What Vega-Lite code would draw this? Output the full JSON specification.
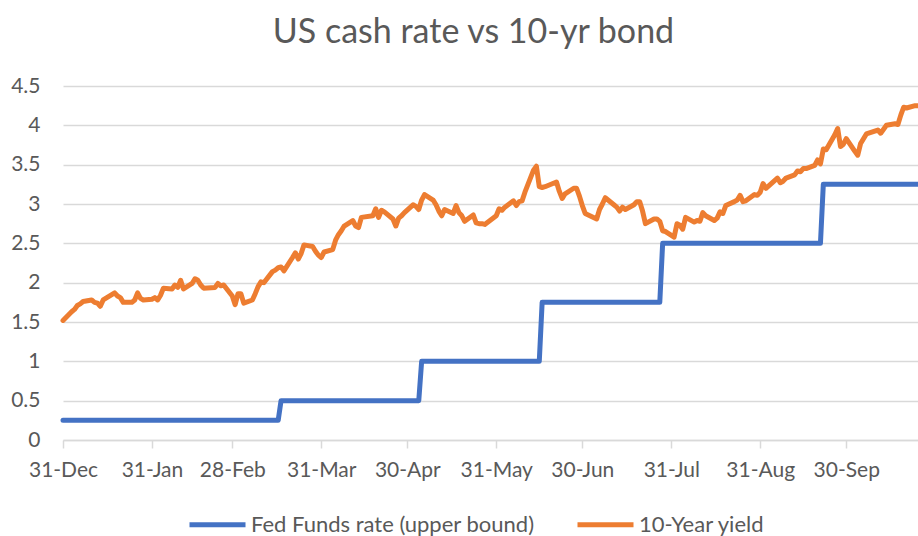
{
  "$schema": "https://vega.github.io/schema/vega-lite/v6.json",
  "width": 855,
  "height": 354,
  "autosize": {"type": "none"},
  "padding": {"left": 63, "top": 86, "right": 0, "bottom": 96},
  "background": "white",
  "config": {"view": {"stroke": null}, "font": "Lato"},
  "title": {"text": "US cash rate vs 10-yr bond", "fontSize": 34, "fontWeight": "normal", "color": "#595959", "anchor": "middle", "frame": "group", "baseline": "alphabetic", "offset": -2, "dx": -17},
  "datasets": {
    "ff": [
      {"d": "2021-12-31", "v": 0.25}, {"d": "2022-03-16", "v": 0.25}, {"d": "2022-03-17", "v": 0.5}, {"d": "2022-05-04", "v": 0.5},
      {"d": "2022-05-05", "v": 1.0}, {"d": "2022-06-15", "v": 1.0}, {"d": "2022-06-16", "v": 1.75}, {"d": "2022-07-27", "v": 1.75},
      {"d": "2022-07-28", "v": 2.5}, {"d": "2022-09-21", "v": 2.5}, {"d": "2022-09-22", "v": 3.25}, {"d": "2022-10-25", "v": 3.25}
    ],
    "y10": [
      {"d": "2021-12-31", "v": 1.52}, {"d": "2022-01-03", "v": 1.63}, {"d": "2022-01-04", "v": 1.66}, {"d": "2022-01-05", "v": 1.71},
      {"d": "2022-01-06", "v": 1.73}, {"d": "2022-01-07", "v": 1.76}, {"d": "2022-01-10", "v": 1.78}, {"d": "2022-01-11", "v": 1.75},
      {"d": "2022-01-12", "v": 1.74}, {"d": "2022-01-13", "v": 1.70}, {"d": "2022-01-14", "v": 1.78}, {"d": "2022-01-18", "v": 1.87},
      {"d": "2022-01-19", "v": 1.83}, {"d": "2022-01-20", "v": 1.81}, {"d": "2022-01-21", "v": 1.75}, {"d": "2022-01-24", "v": 1.75},
      {"d": "2022-01-25", "v": 1.78}, {"d": "2022-01-26", "v": 1.87}, {"d": "2022-01-27", "v": 1.80}, {"d": "2022-01-28", "v": 1.78},
      {"d": "2022-01-31", "v": 1.79}, {"d": "2022-02-01", "v": 1.81}, {"d": "2022-02-02", "v": 1.78}, {"d": "2022-02-03", "v": 1.84},
      {"d": "2022-02-04", "v": 1.93}, {"d": "2022-02-07", "v": 1.92}, {"d": "2022-02-08", "v": 1.97}, {"d": "2022-02-09", "v": 1.94},
      {"d": "2022-02-10", "v": 2.03}, {"d": "2022-02-11", "v": 1.92}, {"d": "2022-02-14", "v": 1.99}, {"d": "2022-02-15", "v": 2.05},
      {"d": "2022-02-16", "v": 2.03}, {"d": "2022-02-17", "v": 1.97}, {"d": "2022-02-18", "v": 1.93}, {"d": "2022-02-22", "v": 1.94},
      {"d": "2022-02-23", "v": 1.99}, {"d": "2022-02-24", "v": 1.96}, {"d": "2022-02-25", "v": 1.97}, {"d": "2022-02-28", "v": 1.83},
      {"d": "2022-03-01", "v": 1.72}, {"d": "2022-03-02", "v": 1.86}, {"d": "2022-03-03", "v": 1.86}, {"d": "2022-03-04", "v": 1.74},
      {"d": "2022-03-07", "v": 1.78}, {"d": "2022-03-08", "v": 1.86}, {"d": "2022-03-09", "v": 1.95}, {"d": "2022-03-10", "v": 2.01},
      {"d": "2022-03-11", "v": 2.00}, {"d": "2022-03-14", "v": 2.14}, {"d": "2022-03-15", "v": 2.16}, {"d": "2022-03-16", "v": 2.19},
      {"d": "2022-03-17", "v": 2.20}, {"d": "2022-03-18", "v": 2.15}, {"d": "2022-03-21", "v": 2.32}, {"d": "2022-03-22", "v": 2.38},
      {"d": "2022-03-23", "v": 2.30}, {"d": "2022-03-24", "v": 2.37}, {"d": "2022-03-25", "v": 2.48}, {"d": "2022-03-28", "v": 2.46},
      {"d": "2022-03-29", "v": 2.40}, {"d": "2022-03-30", "v": 2.35}, {"d": "2022-03-31", "v": 2.32}, {"d": "2022-04-01", "v": 2.39},
      {"d": "2022-04-04", "v": 2.42}, {"d": "2022-04-05", "v": 2.54}, {"d": "2022-04-06", "v": 2.61}, {"d": "2022-04-07", "v": 2.66},
      {"d": "2022-04-08", "v": 2.72}, {"d": "2022-04-11", "v": 2.79}, {"d": "2022-04-12", "v": 2.72}, {"d": "2022-04-13", "v": 2.70},
      {"d": "2022-04-14", "v": 2.83}, {"d": "2022-04-18", "v": 2.85}, {"d": "2022-04-19", "v": 2.94}, {"d": "2022-04-20", "v": 2.83},
      {"d": "2022-04-21", "v": 2.92}, {"d": "2022-04-22", "v": 2.90}, {"d": "2022-04-25", "v": 2.81}, {"d": "2022-04-26", "v": 2.72},
      {"d": "2022-04-27", "v": 2.82}, {"d": "2022-04-28", "v": 2.85}, {"d": "2022-04-29", "v": 2.89}, {"d": "2022-05-02", "v": 2.99},
      {"d": "2022-05-03", "v": 2.97}, {"d": "2022-05-04", "v": 2.93}, {"d": "2022-05-05", "v": 3.05}, {"d": "2022-05-06", "v": 3.12},
      {"d": "2022-05-09", "v": 3.05}, {"d": "2022-05-10", "v": 2.99}, {"d": "2022-05-11", "v": 2.91}, {"d": "2022-05-12", "v": 2.85},
      {"d": "2022-05-13", "v": 2.93}, {"d": "2022-05-16", "v": 2.88}, {"d": "2022-05-17", "v": 2.98}, {"d": "2022-05-18", "v": 2.89},
      {"d": "2022-05-19", "v": 2.85}, {"d": "2022-05-20", "v": 2.78}, {"d": "2022-05-23", "v": 2.86}, {"d": "2022-05-24", "v": 2.76},
      {"d": "2022-05-25", "v": 2.75}, {"d": "2022-05-26", "v": 2.75}, {"d": "2022-05-27", "v": 2.74}, {"d": "2022-05-31", "v": 2.85},
      {"d": "2022-06-01", "v": 2.94}, {"d": "2022-06-02", "v": 2.92}, {"d": "2022-06-03", "v": 2.96}, {"d": "2022-06-06", "v": 3.04},
      {"d": "2022-06-07", "v": 2.98}, {"d": "2022-06-08", "v": 3.03}, {"d": "2022-06-09", "v": 3.04}, {"d": "2022-06-10", "v": 3.15},
      {"d": "2022-06-13", "v": 3.43}, {"d": "2022-06-14", "v": 3.48}, {"d": "2022-06-15", "v": 3.22}, {"d": "2022-06-16", "v": 3.21},
      {"d": "2022-06-17", "v": 3.22}, {"d": "2022-06-21", "v": 3.28}, {"d": "2022-06-22", "v": 3.16}, {"d": "2022-06-23", "v": 3.07},
      {"d": "2022-06-24", "v": 3.13}, {"d": "2022-06-27", "v": 3.20}, {"d": "2022-06-28", "v": 3.20}, {"d": "2022-06-29", "v": 3.10},
      {"d": "2022-06-30", "v": 2.98}, {"d": "2022-07-01", "v": 2.88}, {"d": "2022-07-05", "v": 2.81}, {"d": "2022-07-06", "v": 2.93},
      {"d": "2022-07-07", "v": 3.00}, {"d": "2022-07-08", "v": 3.08}, {"d": "2022-07-11", "v": 2.99}, {"d": "2022-07-12", "v": 2.96},
      {"d": "2022-07-13", "v": 2.91}, {"d": "2022-07-14", "v": 2.96}, {"d": "2022-07-15", "v": 2.93}, {"d": "2022-07-18", "v": 2.99},
      {"d": "2022-07-19", "v": 3.03}, {"d": "2022-07-20", "v": 3.03}, {"d": "2022-07-21", "v": 2.91}, {"d": "2022-07-22", "v": 2.75},
      {"d": "2022-07-25", "v": 2.81}, {"d": "2022-07-26", "v": 2.81}, {"d": "2022-07-27", "v": 2.78}, {"d": "2022-07-28", "v": 2.66},
      {"d": "2022-07-29", "v": 2.65}, {"d": "2022-08-01", "v": 2.58}, {"d": "2022-08-02", "v": 2.75}, {"d": "2022-08-03", "v": 2.73},
      {"d": "2022-08-04", "v": 2.68}, {"d": "2022-08-05", "v": 2.83}, {"d": "2022-08-08", "v": 2.77}, {"d": "2022-08-09", "v": 2.79},
      {"d": "2022-08-10", "v": 2.78}, {"d": "2022-08-11", "v": 2.89}, {"d": "2022-08-12", "v": 2.85}, {"d": "2022-08-15", "v": 2.79},
      {"d": "2022-08-16", "v": 2.82}, {"d": "2022-08-17", "v": 2.90}, {"d": "2022-08-18", "v": 2.88}, {"d": "2022-08-19", "v": 2.98},
      {"d": "2022-08-22", "v": 3.03}, {"d": "2022-08-23", "v": 3.05}, {"d": "2022-08-24", "v": 3.11}, {"d": "2022-08-25", "v": 3.03},
      {"d": "2022-08-26", "v": 3.04}, {"d": "2022-08-29", "v": 3.12}, {"d": "2022-08-30", "v": 3.11}, {"d": "2022-08-31", "v": 3.15},
      {"d": "2022-09-01", "v": 3.26}, {"d": "2022-09-02", "v": 3.20}, {"d": "2022-09-06", "v": 3.33}, {"d": "2022-09-07", "v": 3.27},
      {"d": "2022-09-08", "v": 3.29}, {"d": "2022-09-09", "v": 3.33}, {"d": "2022-09-12", "v": 3.37}, {"d": "2022-09-13", "v": 3.42},
      {"d": "2022-09-14", "v": 3.41}, {"d": "2022-09-15", "v": 3.45}, {"d": "2022-09-16", "v": 3.45}, {"d": "2022-09-19", "v": 3.49},
      {"d": "2022-09-20", "v": 3.56}, {"d": "2022-09-21", "v": 3.51}, {"d": "2022-09-22", "v": 3.70}, {"d": "2022-09-23", "v": 3.69},
      {"d": "2022-09-26", "v": 3.88}, {"d": "2022-09-27", "v": 3.96}, {"d": "2022-09-28", "v": 3.73}, {"d": "2022-09-29", "v": 3.76},
      {"d": "2022-09-30", "v": 3.83}, {"d": "2022-10-03", "v": 3.67}, {"d": "2022-10-04", "v": 3.62}, {"d": "2022-10-05", "v": 3.77},
      {"d": "2022-10-06", "v": 3.83}, {"d": "2022-10-07", "v": 3.89}, {"d": "2022-10-11", "v": 3.94}, {"d": "2022-10-12", "v": 3.90},
      {"d": "2022-10-13", "v": 3.95}, {"d": "2022-10-14", "v": 4.00}, {"d": "2022-10-17", "v": 4.02}, {"d": "2022-10-18", "v": 4.01},
      {"d": "2022-10-19", "v": 4.13}, {"d": "2022-10-20", "v": 4.23}, {"d": "2022-10-21", "v": 4.22}, {"d": "2022-10-24", "v": 4.25},
      {"d": "2022-10-25", "v": 4.25}
    ]
  },
  "encoding": {
    "x": {
      "field": "d", "type": "temporal",
      "scale": {"type": "utc", "domain": [{"year": 2021, "month": 12, "date": 31, "utc": true}, {"year": 2022, "month": 10, "date": 25, "utc": true}]},
      "axis": {
        "title": null, "grid": false, "format": "%d-%b", "labelFlush": false, "labelOverlap": false, "labelBound": false,
        "values": [
          {"year": 2021, "month": 12, "date": 31, "utc": true}, {"year": 2022, "month": 1, "date": 31, "utc": true},
          {"year": 2022, "month": 2, "date": 28, "utc": true}, {"year": 2022, "month": 3, "date": 31, "utc": true},
          {"year": 2022, "month": 4, "date": 30, "utc": true}, {"year": 2022, "month": 5, "date": 31, "utc": true},
          {"year": 2022, "month": 6, "date": 30, "utc": true}, {"year": 2022, "month": 7, "date": 31, "utc": true},
          {"year": 2022, "month": 8, "date": 31, "utc": true}, {"year": 2022, "month": 9, "date": 30, "utc": true}
        ],
        "domainColor": "#D9D9D9", "domainWidth": 1.5, "tickColor": "#D9D9D9", "tickWidth": 1.5, "tickSize": 8,
        "labelPadding": 11, "labelFontSize": 21, "labelColor": "#595959"
      }
    },
    "y": {
      "field": "v", "type": "quantitative",
      "scale": {"domain": [0, 4.5], "nice": false},
      "axis": {
        "title": null, "domain": false, "ticks": false, "tickSize": 0, "labelPadding": 23, "format": "~g",
        "values": [0, 0.5, 1, 1.5, 2, 2.5, 3, 3.5, 4, 4.5],
        "gridColor": "#D9D9D9", "gridWidth": 1.5, "labelFontSize": 21, "labelColor": "#595959"
      }
    }
  },
  "layer": [
    {
      "data": {"name": "ff"},
      "mark": {"type": "line", "strokeWidth": 5, "strokeJoin": "round", "strokeCap": "round"},
      "encoding": {
        "color": {
          "datum": "Fed Funds rate (upper bound)",
          "scale": {"domain": ["Fed Funds rate (upper bound)", "10-Year yield"], "range": ["#4472C4", "#ED7D31"]},
          "legend": {
            "title": null, "orient": "none", "direction": "horizontal", "legendX": 124, "legendY": 408,
            "symbolType": "stroke", "symbolSize": 3136, "symbolStrokeWidth": 5, "labelFontSize": 22, "labelColor": "#595959",
            "labelOffset": 3, "columnPadding": 32, "padding": 0, "labelLimit": 0
          }
        }
      }
    },
    {
      "data": {"name": "y10"},
      "mark": {"type": "line", "strokeWidth": 5, "strokeJoin": "round", "strokeCap": "round"},
      "encoding": {"color": {"datum": "10-Year yield"}}
    }
  ]
}
